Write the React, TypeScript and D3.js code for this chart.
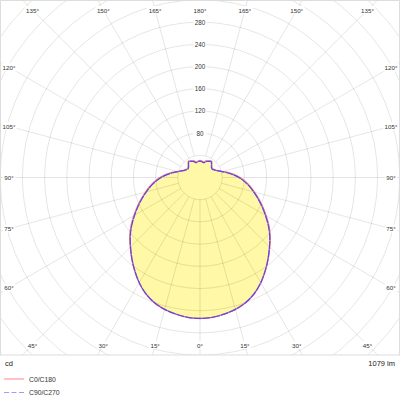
import React, { useEffect, useRef } from "react"
import * as d3 from "d3"

// gamma angles in degrees, 0 = straight down
const gammas = [
	0, 5, 10, 15, 20, 25, 30, 35, 40, 45, 50, 55, 60, 65, 70, 75, 80, 85, 90, 95,
	100, 105, 110, 115, 120, 125, 130, 135, 140, 145, 150, 155, 160, 165, 170,
	175, 180,
]
// luminous intensity, cd
const c0c180 = [
	254, 253, 250, 246, 240, 231, 219, 205, 191, 177.5, 165, 151.5, 137.5, 124.5,
	112.5, 101.5, 91.5, 81.5, 71.5, 61, 51, 42, 36, 31.5, 29, 27.5, 28, 30, 33,
	36, 34.5, 33, 31.5, 28.5, 29, 30, 30.5,
]
const c90c270 = [
	254, 253, 250, 246, 240, 231, 219, 205, 191, 177, 164, 150, 136, 123, 111,
	100, 90, 80, 70, 59.5, 49.5, 41, 35, 30.5, 28, 26.5, 27, 29, 32, 35, 33.5,
	32, 30.5, 27.5, 28, 29, 29.5,
]
const seriesNames = ["C0/C180", "C90/C270"]
const seriesColors = ["#f87878", "#5448ee"]
const ringLabels = [80, 120, 160, 200, 240, 280]
const angleLabels = [0, 15, 30, 45, 60, 75, 90, 105, 120, 135, 150, 165, 180]
const unitText = "cd"
const fluxText = "1079 lm"

const W = 400
const H = 400
const boxH = 355
const cx = 200
const cy = 177.5
const font = "'Liberation Sans', Arial, sans-serif"

const App: React.FC = () => {
	const ref = useRef<SVGSVGElement>(null)

	useEffect(() => {
		const svg = d3.select(ref.current)
		svg.selectAll("*").remove()

		const r = d3.scaleLinear().domain([0, 280]).range([0, 155.4])
		const rad = (deg: number) => (deg * Math.PI) / 180

		svg
			.append("clipPath")
			.attr("id", "box")
			.append("rect")
			.attr("x", 0)
			.attr("y", 0)
			.attr("width", W)
			.attr("height", boxH)

		const plot = svg.append("g").attr("clip-path", "url(#box)")
		const g = plot.append("g").attr("transform", `translate(${cx},${cy})`)

		// closed outline: right half is C0 / C90, left half mirrored
		const outline = (vals: number[]) => {
			const pts: [number, number][] = []
			gammas.forEach((a, i) => pts.push([Math.PI - rad(a), vals[i]]))
			for (let i = gammas.length - 2; i > 0; i--)
				pts.push([Math.PI + rad(gammas[i]), vals[i]])
			return pts
		}
		const line = d3
			.lineRadial<[number, number]>()
			.angle((d) => d[0])
			.radius((d) => r(d[1]))
			.curve(d3.curveCatmullRomClosed)

		g.append("path")
			.attr("d", line(outline(c0c180)))
			.attr("fill", "#fff8a6")
			.attr("stroke", "none")

		// grid on top of the fill
		const grid = g
			.append("g")
			.attr("stroke", "#000")
			.attr("stroke-opacity", 0.1)
			.attr("fill", "none")
		grid
			.selectAll("circle")
			.data(d3.range(40, 521, 40))
			.join("circle")
			.attr("r", (d) => r(d))
		const spokes: number[] = []
		angleLabels.forEach((a) => {
			if (a < 180) spokes.push(a)
			if (a > 0 && a < 180) spokes.push(-a)
		})
		grid
			.selectAll("line")
			.data(spokes)
			.join("line")
			.attr("x1", (d) => r(40) * Math.sin(rad(d)))
			.attr("y1", (d) => r(40) * Math.cos(rad(d)))
			.attr("x2", (d) => 600 * Math.sin(rad(d)))
			.attr("y2", (d) => 600 * Math.cos(rad(d)))

		// curves
		g.append("path")
			.attr("d", line(outline(c0c180)))
			.attr("fill", "none")
			.attr("stroke", seriesColors[0])
			.attr("stroke-width", 1.5)
		g.append("path")
			.attr("d", line(outline(c90c270)))
			.attr("fill", "none")
			.attr("stroke", seriesColors[1])
			.attr("stroke-width", 1.2)
			.attr("stroke-dasharray", "8,0.8")

		// ring value labels
		ringLabels.forEach((v) => {
			const lbl = g.append("g").attr("transform", `translate(0,${-r(v)})`)
			lbl.append("rect")
				.attr("x", -6.5)
				.attr("y", -4)
				.attr("width", 13)
				.attr("height", 8)
				.attr("fill", "#fff")
			lbl.append("text")
				.attr("text-anchor", "middle")
				.attr("dominant-baseline", "central")
				.attr("font-family", font)
				.attr("font-size", 6.3)
				.attr("fill", "#333")
				.text(v)
		})

		// angle labels on an inset box
		const labelAt = (deg: number) => {
			const dx = Math.sin(rad(deg))
			const dy = Math.cos(rad(deg))
			let t = Infinity
			if (Math.abs(dx) > 1e-6) t = Math.min(t, ((dx > 0 ? 391 : 9) - cx) / dx)
			if (Math.abs(dy) > 1e-6) t = Math.min(t, ((dy > 0 ? 345 : 10) - cy) / dy)
			return [cx + t * dx, cy + t * dy]
		}
		spokes.concat([180]).forEach((d) => {
			const [x, y] = labelAt(d)
			const txt = `${Math.abs(d)}°`
			const tw = txt.length * 3.4 + 2
			plot.append("rect")
				.attr("x", x - tw / 2)
				.attr("y", y - 4)
				.attr("width", tw)
				.attr("height", 8)
				.attr("fill", "#fff")
			plot.append("text")
				.attr("x", x)
				.attr("y", y)
				.attr("text-anchor", "middle")
				.attr("dominant-baseline", "central")
				.attr("font-family", font)
				.attr("font-size", 6.2)
				.attr("fill", "#333")
				.text(txt)
		})

		svg.append("rect")
			.attr("x", 0.5)
			.attr("y", 0.5)
			.attr("width", W - 1)
			.attr("height", boxH - 0.5)
			.attr("fill", "none")
			.attr("stroke", "#ddd")

		svg.append("text")
			.attr("x", 5)
			.attr("y", 363)
			.attr("dominant-baseline", "central")
			.attr("font-family", font)
			.attr("font-size", 7.5)
			.attr("fill", "#222")
			.text(unitText)
		svg.append("text")
			.attr("x", 395)
			.attr("y", 363)
			.attr("text-anchor", "end")
			.attr("dominant-baseline", "central")
			.attr("font-family", font)
			.attr("font-size", 7.5)
			.attr("fill", "#222")
			.text(fluxText)

		// legend
		seriesNames.forEach((name, i) => {
			const y = 379 + i * 13.5
			svg.append("line")
				.attr("x1", 4)
				.attr("x2", 24)
				.attr("y1", y)
				.attr("y2", y)
				.attr("stroke", i == 0 ? "#ff9a9a" : "#9d9dff")
				.attr("stroke-width", 1.2)
				.attr("stroke-dasharray", i == 0 ? null : "5,2.5")
			svg.append("text")
				.attr("x", 29)
				.attr("y", y)
				.attr("dominant-baseline", "central")
				.attr("font-family", font)
				.attr("font-size", 6.8)
				.attr("fill", "#333")
				.text(name)
		})
	}, [])

	return (
		<div style={{ position: "absolute", left: 0, top: 0 }}>
			<svg ref={ref} width={W} height={H} style={{ display: "block" }} />
		</div>
	)
}

export default App
